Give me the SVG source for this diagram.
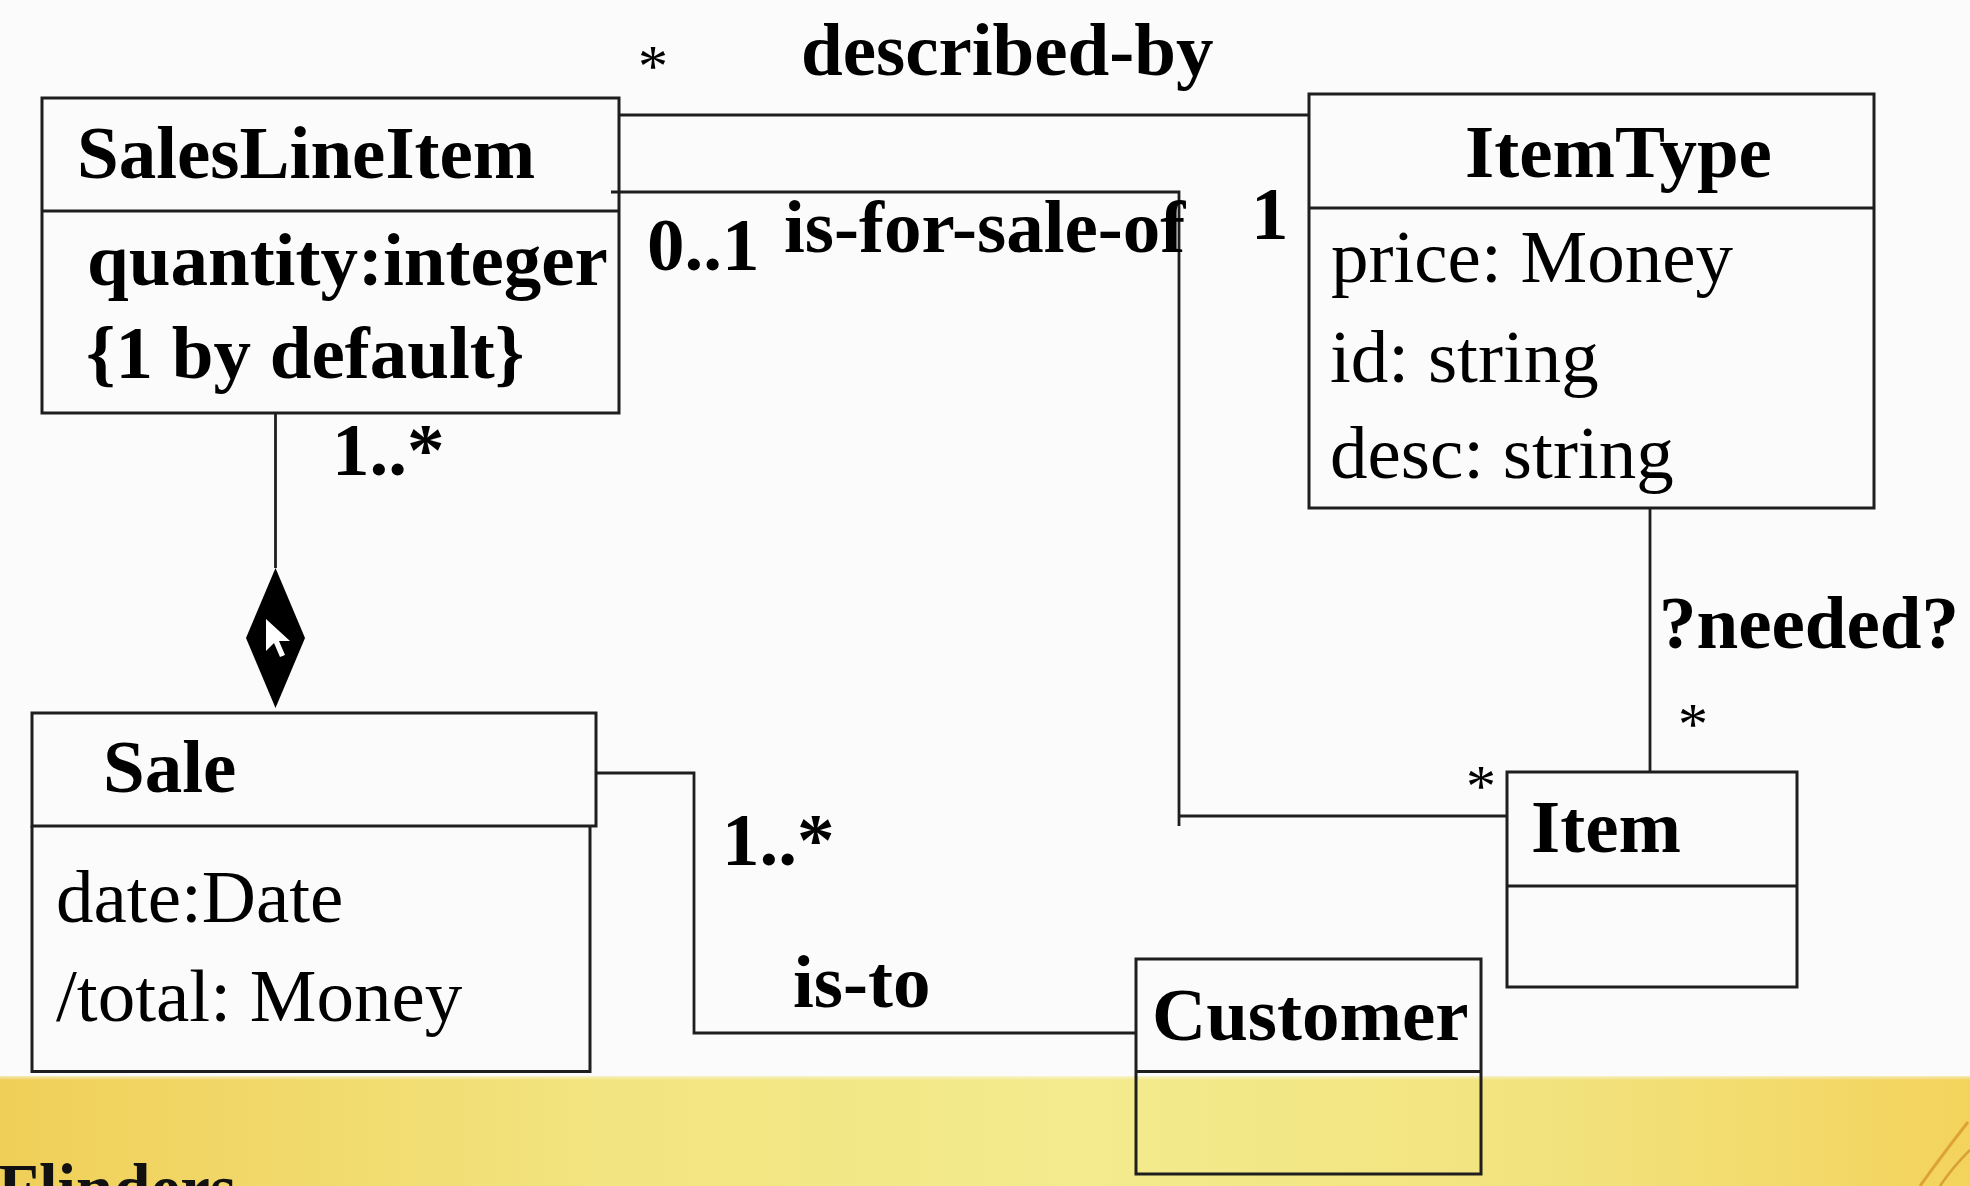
<svg xmlns="http://www.w3.org/2000/svg" width="1970" height="1186" viewBox="0 0 1970 1186">
  <defs>
    <linearGradient id="band" x1="0" y1="0" x2="1" y2="0">
      <stop offset="0" stop-color="#f0cf58"/>
      <stop offset="0.3" stop-color="#f2e47f"/>
      <stop offset="0.55" stop-color="#f3eb8e"/>
      <stop offset="0.8" stop-color="#f2e27c"/>
      <stop offset="1" stop-color="#f3d35c"/>
    </linearGradient>
    <linearGradient id="bandTop" x1="0" y1="0" x2="0" y2="1">
      <stop offset="0" stop-color="#fbfbfb" stop-opacity="0.9"/>
      <stop offset="1" stop-color="#fbfbfb" stop-opacity="0"/>
    </linearGradient>
  </defs>
  <style>
    .box { fill: none; stroke: #1e1e1e; stroke-width: 3; }
    .conn { fill: none; stroke: #1e1e1e; stroke-width: 2.8; }
    .title { font-family: "Liberation Serif", "Times New Roman", serif; font-weight: bold; font-size: 75px; fill: #000; }
    .attr { font-family: "Liberation Serif", "Times New Roman", serif; font-size: 75px; fill: #000; }
    .lbl { font-family: "Liberation Serif", "Times New Roman", serif; font-weight: bold; font-size: 75px; fill: #000; }
    .star { font-family: "Liberation Serif", "Times New Roman", serif; font-size: 60px; fill: #000; }
  </style>

  <!-- background -->
  <rect x="0" y="0" width="1970" height="1186" fill="#fbfbfb"/>
  <rect x="0" y="1076" width="1970" height="110" fill="url(#band)"/>
  <rect x="0" y="1074" width="1970" height="6" fill="url(#bandTop)"/>
  <path d="M1968,1122 C1950,1145 1935,1165 1920,1186" fill="none" stroke="#d8962e" stroke-width="3" opacity="0.8"/>
  <path d="M1970,1150 C1958,1162 1948,1174 1940,1186" fill="none" stroke="#cf8a28" stroke-width="2.5" opacity="0.7"/>
  <text x="-2" y="1213" font-family="Liberation Serif, Times New Roman, serif" font-weight="bold" font-size="72" textLength="238" lengthAdjust="spacingAndGlyphs" fill="#111">Flinders</text>

  <!-- connectors -->
  <g id="connectors">
    <path class="conn" d="M619,115 H1309"/>
    <path class="conn" d="M611,192 H1179 V826 M1179,816 H1507"/>
    <path class="conn" d="M275.5,413 V568"/>
    <polygon points="275.5,568 305,638 275.5,708 246,638" fill="#000"/>
    <path class="conn" d="M1650,508 V772"/>
    <path class="conn" d="M596,773 H694 V1033 H1136"/>
    <!-- mouse pointer over the diamond -->
    <polygon points="266,619 266,651 274,643 280,657 285,655 279,641 290,641" fill="#fff"/>
  </g>

  <!-- labels -->
  <g id="labels">
    <text class="star" x="638" y="86">*</text>
    <text class="lbl" x="801" y="75">described-by</text>
    <text class="lbl" x="647" y="270">0..1</text>
    <text class="lbl" x="784" y="252">is-for-sale-of</text>
    <text class="lbl" x="1251" y="239">1</text>
    <text class="lbl" x="332" y="475">1..*</text>
    <text class="lbl" x="1659" y="648">?needed?</text>
    <text class="star" x="1678" y="744">*</text>
    <text class="star" x="1466" y="806">*</text>
    <text class="lbl" x="722" y="865">1..*</text>
    <text class="lbl" x="793" y="1007">is-to</text>
  </g>

  <g id="SalesLineItem">
    <rect class="box" x="42" y="98" width="577" height="315"/>
    <line class="box" x1="42" y1="211" x2="619" y2="211"/>
    <text class="title" x="77" y="178">SalesLineItem</text>
    <text class="title" x="87" y="285">quantity:integer</text>
    <text class="title" x="86" y="378">{1 by default}</text>
  </g>

  <g id="ItemType">
    <rect class="box" x="1309" y="94" width="565" height="414"/>
    <line class="box" x1="1309" y1="208" x2="1874" y2="208"/>
    <text class="title" x="1465" y="177">ItemType</text>
    <text class="attr" x="1331" y="282">price: Money</text>
    <text class="attr" x="1330" y="382">id: string</text>
    <text class="attr" x="1330" y="478">desc: string</text>
  </g>

  <g id="Sale">
    <rect class="box" x="32" y="713" width="564" height="113"/>
    <path class="box" d="M32,826 V1071.5 H590 V826"/>
    <text class="title" x="103" y="792">Sale</text>
    <text class="attr" x="56" y="922">date:Date</text>
    <text class="attr" x="56" y="1021">/total: Money</text>
  </g>

  <g id="Item">
    <rect class="box" x="1507" y="772" width="290" height="215"/>
    <line class="box" x1="1507" y1="886" x2="1797" y2="886"/>
    <text class="title" x="1531" y="852">Item</text>
  </g>

  <g id="Customer">
    <rect class="box" x="1136" y="959" width="345" height="215"/>
    <line class="box" x1="1136" y1="1071.5" x2="1481" y2="1071.5"/>
    <text class="title" x="1152" y="1040">Customer</text>
  </g>
</svg>
